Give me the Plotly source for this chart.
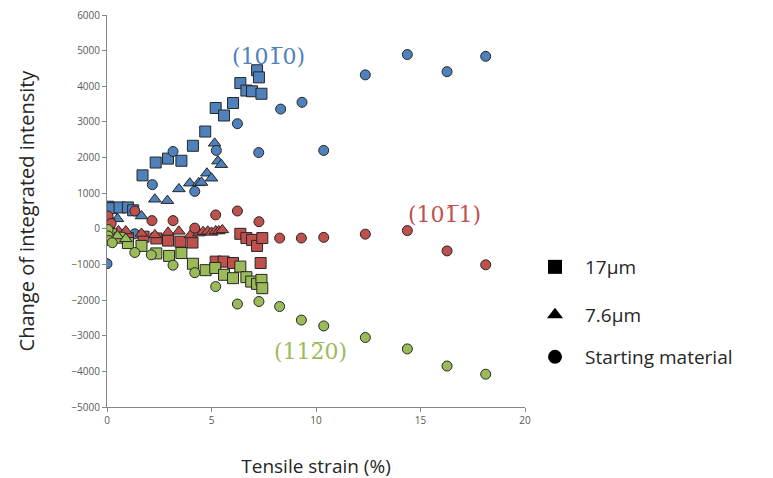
import plotly.graph_objects as go

# ---- data ----
blue_sq_x = [0.05, 0.25, 0.6, 1.0, 1.25, 1.7, 2.33, 2.92, 3.56, 4.11, 4.7, 5.2, 5.6, 6.03, 6.38, 6.67, 6.94, 7.18, 7.27, 7.39]
blue_sq_y = [620, 580, 600, 600, 520, 1500, 1860, 1970, 1910, 2330, 2730, 3390, 3180, 3530, 4090, 3880, 3860, 4450, 4250, 3790]
blue_tri_x = [0.5, 1.65, 2.29, 2.89, 3.44, 3.96, 4.39, 4.52, 4.78, 5.0, 5.15, 5.31, 5.47]
blue_tri_y = [280, 360, 830, 790, 1120, 1280, 1290, 1300, 1560, 1420, 2400, 1900, 1800]
blue_circ_x = [0.0, 1.33, 2.17, 3.16, 4.2, 5.23, 6.24, 7.26, 8.31, 9.33, 10.37, 12.36, 14.37, 16.27, 18.12]
blue_circ_y = [-980, -140, 1240, 2170, 1050, 2200, 2950, 2140, 3360, 3550, 2200, 4320, 4890, 4410, 4840]

red_sq_x = [0.1, 0.6, 1.0, 1.75, 2.36, 2.92, 3.51, 4.09, 5.2, 5.58, 6.03, 6.38, 6.67, 6.94, 7.18, 7.35, 7.43]
red_sq_y = [150, -170, -260, -220, -270, -330, -360, -385, -920, -920, -960, -140, -260, -310, -480, -960, -260]
red_tri_x = [0.55, 0.9, 1.65, 2.29, 2.92, 3.44, 4.0, 4.4, 4.6, 4.82, 5.0, 5.2, 5.35, 5.52]
red_tri_y = [-60, -60, -130, -170, -100, -70, -170, -120, -80, -70, -100, -60, -60, -30]
red_circ_x = [0.05, 0.2, 1.33, 2.15, 3.16, 4.2, 5.2, 6.24, 7.27, 8.26, 9.3, 10.37, 12.36, 14.37, 16.27, 18.12]
red_circ_y = [360, 150, 500, 230, 230, 20, 390, 500, 200, -260, -260, -240, -150, -50, -620, -1010]

green_sq_x = [0.2, 0.6, 1.0, 1.65, 2.36, 2.97, 3.56, 4.11, 4.72, 5.18, 5.6, 6.03, 6.38, 6.67, 6.9, 7.18, 7.39, 7.43]
green_sq_y = [-150, -250, -400, -480, -690, -760, -680, -980, -1160, -1100, -1290, -1385, -1060, -1357, -1480, -1545, -1433, -1666]
green_tri_x = [0.5, 0.9]
green_tri_y = [-200, -280]
green_circ_x = [0.05, 0.05, 0.1, 0.25, 1.33, 2.12, 3.16, 4.2, 5.2, 6.24, 7.27, 8.26, 9.3, 10.37, 12.36, 14.37, 16.27, 18.12]
green_circ_y = [-20, -200, -330, -390, -665, -730, -1020, -1230, -1620, -2110, -2040, -2180, -2560, -2725, -3050, -3370, -3850, -4080]

x_ticks = [0, 5, 10, 15, 20]
y_ticks = [6000, 5000, 4000, 3000, 2000, 1000, 0, -1000, -2000, -3000, -4000, -5000]

legend_labels = ["17\u03bcm", "7.6\u03bcm", "Starting material"]
plane_labels = ["(101\u03050)", "(101\u03051)", "(112\u03050)"]

BLUE = "#4F81BD"
RED = "#C0504D"
GREEN = "#9BBB59"
EDGE = "#262626"

# page body has an 8px margin; lay out in screen pixels and offset
OFF = 8
W, H = 773, 478
PLOT_L, PLOT_R, PLOT_T, PLOT_B = 107, 525, 15, 407   # screen px of plot area
L = PLOT_L - OFF
T = PLOT_T - OFF
PW = PLOT_R - PLOT_L
PH = PLOT_B - PLOT_T
R = W - L - PW
B = H - T - PH

fig = go.Figure()

def add(xs, ys, color, symbol, size):
    fig.add_trace(go.Scatter(
        x=xs, y=ys, mode="markers", showlegend=False, hoverinfo="skip",
        marker=dict(symbol=symbol, size=size, color=color,
                    line=dict(color=EDGE, width=1)),
    ))

add(blue_sq_x, blue_sq_y, BLUE, "square", 11)
add(blue_tri_x, blue_tri_y, BLUE, "triangle-up", 11)
add(blue_circ_x, blue_circ_y, BLUE, "circle", 10)
add(red_sq_x, red_sq_y, RED, "square", 11)
add(red_tri_x, red_tri_y, RED, "triangle-up", 11)
add(red_circ_x, red_circ_y, RED, "circle", 10)
add(green_sq_x, green_sq_y, GREEN, "square", 11)
add(green_tri_x, green_tri_y, GREEN, "triangle-up", 11)
add(green_circ_x, green_circ_y, GREEN, "circle", 10)

# legend entries (black markers), one legend each for exact placement
leg_symbols = ["square", "triangle-up", "circle"]
leg_names = ["legend", "legend2", "legend3"]
for lab, sym, ln in zip(legend_labels, leg_symbols, leg_names):
    fig.add_trace(go.Scatter(
        x=[None], y=[None], mode="markers", name=lab, legend=ln,
        marker=dict(symbol=sym, size=14, color="black"),
    ))

leg_font = dict(family="Open Sans, Liberation Sans, sans-serif", size=19, color="#262626")
common_leg = dict(xanchor="left", yanchor="middle", bgcolor="rgba(0,0,0,0)",
                  font=leg_font, itemwidth=50)

def scr_to_paper(sx, sy):
    return (sx - PLOT_L) / PW, (PLOT_B - sy) / PH

leg_pos = [(525, 267), (525, 315), (525, 357)]
leg_layout = {}
for ln, (sx, sy) in zip(leg_names, leg_pos):
    xp, yp = scr_to_paper(sx, sy)
    leg_layout[ln] = dict(x=xp, y=yp, **common_leg)

ann_pos = [(268, 42), (483, 214), (310, 366)]
ann_colors = [BLUE, RED, GREEN]
annotations = []
for txt, (sx, sy), col in zip(plane_labels, ann_pos, ann_colors):
    xp, yp = scr_to_paper(sx, sy)
    annotations.append(dict(text=txt, x=xp, y=yp, xref="paper", yref="paper",
                            showarrow=False,
                            font=dict(family="DejaVu Serif, serif", size=22, color=col)))

fig.update_layout(
    width=W, height=H,
    margin=dict(l=L, r=R, t=T, b=B),
    paper_bgcolor="white", plot_bgcolor="white",
    xaxis=dict(range=[0, 20], tickvals=x_ticks, showgrid=False, zeroline=False,
               automargin=False, ticklabeloverflow="allow",
               showline=True, linecolor="#868686", linewidth=1,
               ticks="outside", ticklen=4, tickcolor="#868686",
               tickfont=dict(family="Open Sans, sans-serif", size=10, color="#595959"),
               title=dict(text="Tensile strain (%)", standoff=33,
                          font=dict(family="Open Sans, sans-serif", size=19, color="#262626"))),
    yaxis=dict(range=[-5000, 6000], tickvals=y_ticks, showgrid=False, zeroline=False,
               automargin=False, ticklabeloverflow="allow",
               showline=True, linecolor="#868686", linewidth=1,
               ticks="outside", ticklen=4, tickcolor="#868686",
               tickfont=dict(family="Open Sans, sans-serif", size=10, color="#595959"),
               title=dict(text="Change of integrated intensity", standoff=31,
                          font=dict(family="Open Sans, sans-serif", size=20, color="#262626"))),
    annotations=annotations,
    **leg_layout,
)

fig.write_html("out.html")
